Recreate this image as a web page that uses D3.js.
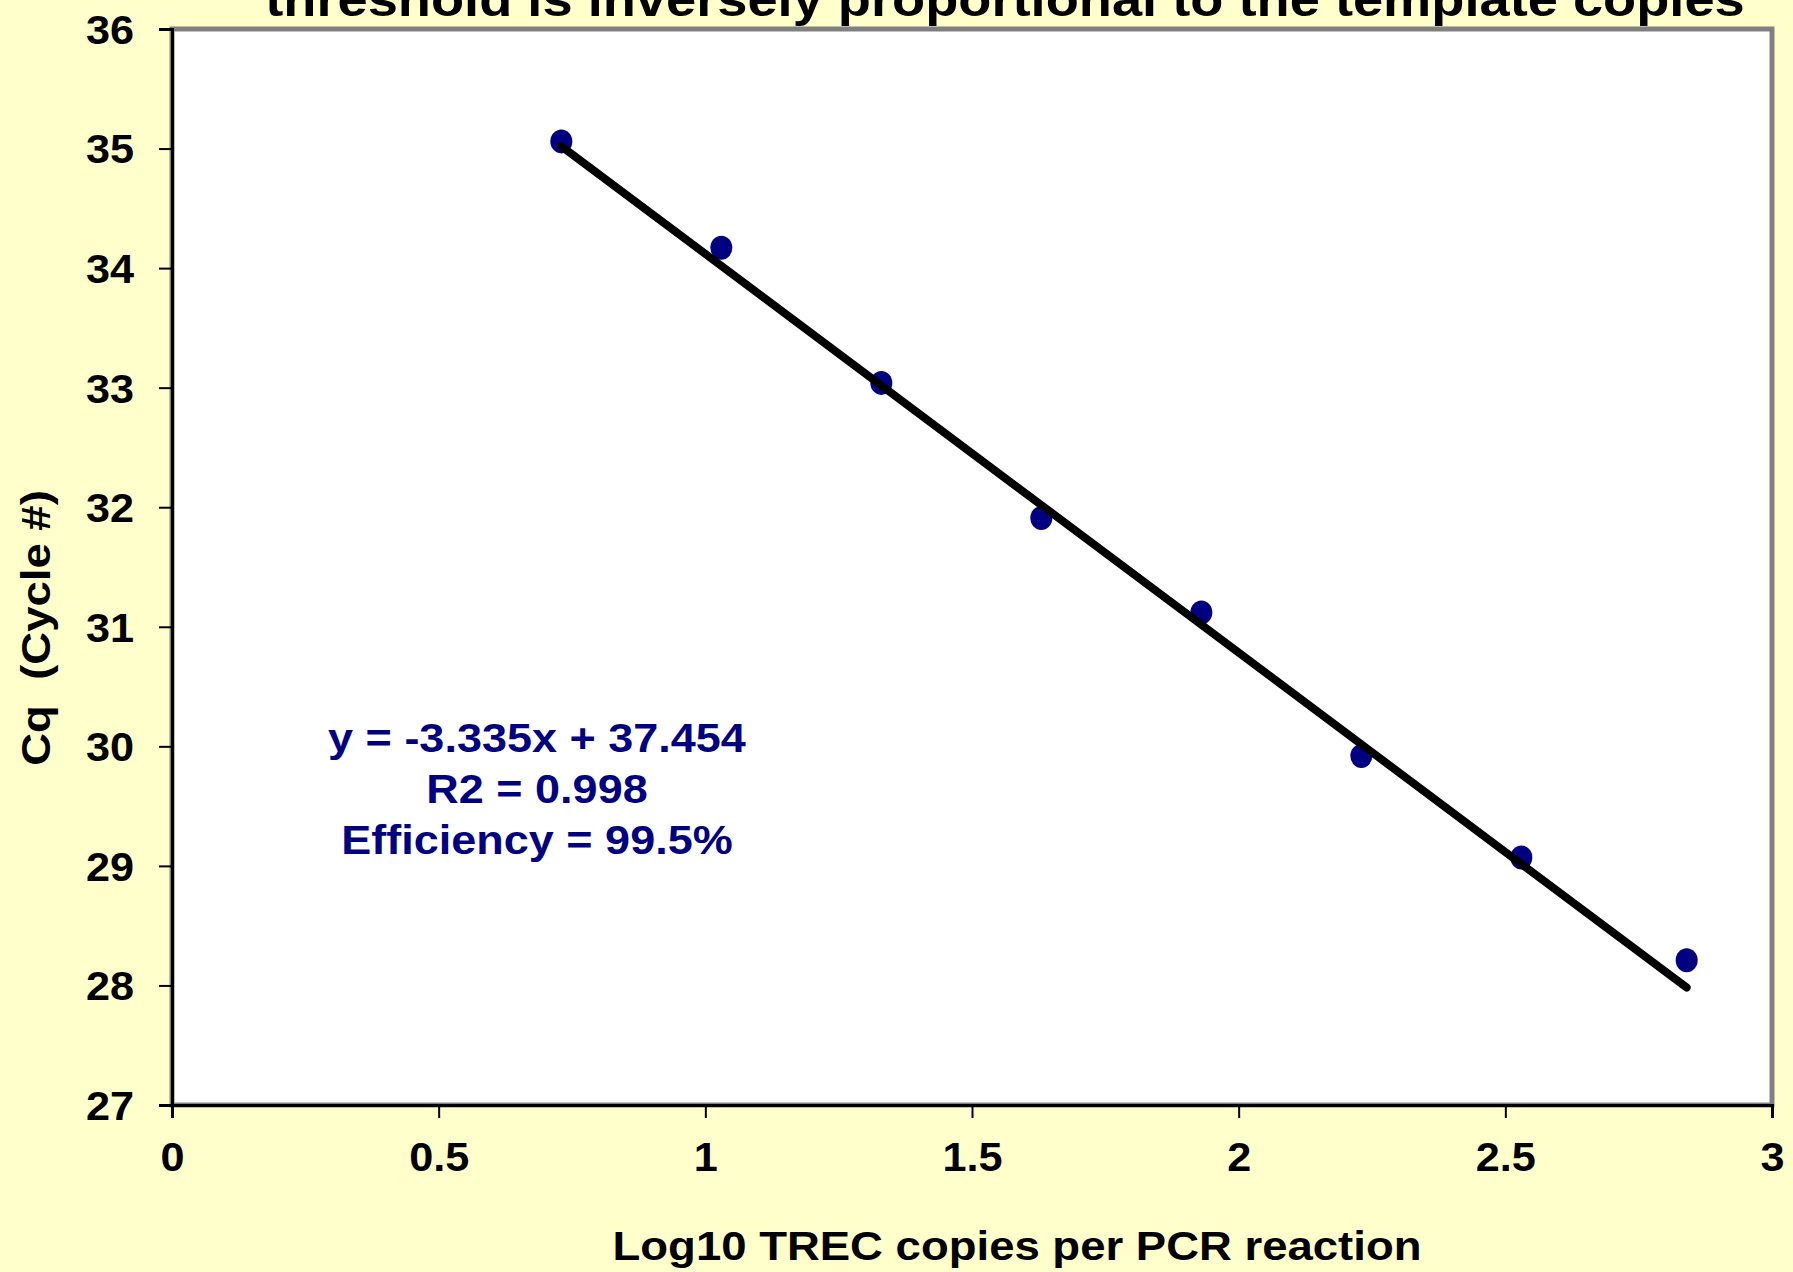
<!DOCTYPE html>
<html>
<head>
<meta charset="utf-8">
<script src="https://cdn.jsdelivr.net/npm/d3@7"></script>
<style>
  html, body { margin: 0; padding: 0; background: #FFFFCC; }
  svg { display: block; }
  text { font-family: "Liberation Sans", Arial, sans-serif; font-weight: bold; white-space: pre; }
</style>
</head>
<body>
<svg id="chart" width="1793" height="1272"></svg>
<script>
// Standard curve: Cq versus log10 template copies
const logCopies = [0.73, 1.03, 1.33, 1.63, 1.93, 2.23, 2.53, 2.84];
const cqValues  = [35.06, 34.17, 33.04, 31.91, 31.12, 29.92, 29.07, 28.21];
const fitSlope = -3.335;
const fitIntercept = 37.454;
const fitR2 = 0.998;
const efficiencyPct = 99.5;
const xTicks = [0, 0.5, 1, 1.5, 2, 2.5, 3];
const yTicks = [27, 28, 29, 30, 31, 32, 33, 34, 35, 36];

const titleText = "threshold is inversely proportional to the template copies";
const xTitle = "Log10 TREC copies per PCR reaction";
const yTitle = "Cq  (Cycle #)";

const m = { left: 172, right: 1772, top: 29, bottom: 1105 };

const svg = d3.select("#chart");

const x = d3.scaleLinear().domain([0, 3]).range([m.left, m.right]);
const y = d3.scaleLinear().domain([27, 36]).range([m.bottom, m.top]);

// widen glyphs horizontally around a chosen origin
function stretch(sel, k, origin) {
  sel.style("transform-box", "fill-box")
     .style("transform-origin", origin || "center")
     .style("transform", `scaleX(${k})`);
}

// plot area with grey frame
svg.append("rect")
  .attr("x", m.left).attr("y", m.top)
  .attr("width", m.right - m.left).attr("height", m.bottom - m.top)
  .attr("fill", "#FFFFFF")
  .attr("stroke", "#808080").attr("stroke-width", 5);

// title (runs off the top edge)
svg.append("text")
  .attr("x", 1005).attr("y", 16)
  .attr("text-anchor", "middle")
  .attr("font-size", 48)
  .attr("fill", "#000")
  .text(titleText)
  .call(stretch, 1.13);

// axes
const yAxis = d3.axisLeft(y).tickValues(yTicks).tickSize(13).tickPadding(25).tickFormat(d3.format("d"));
const xAxis = d3.axisBottom(x).tickValues(xTicks).tickSize(13).tickPadding(25).tickFormat(d => String(d));

const gy = svg.append("g").attr("transform", `translate(${m.left},0)`).call(yAxis);
const gx = svg.append("g").attr("transform", `translate(0,${m.bottom})`).call(xAxis);

[gx, gy].forEach(g => {
  g.select(".domain").attr("stroke", "#000").attr("stroke-width", 3);
  g.selectAll(".tick line").attr("stroke", "#000").attr("stroke-width", 2);
  g.selectAll(".tick text")
    .attr("fill", "#000")
    .attr("font-family", "'Liberation Sans', Arial, sans-serif")
    .attr("font-weight", "bold")
    .attr("font-size", 40);
});
gy.selectAll(".tick text").attr("dy", "0.36em").call(stretch, 1.08, "right center");
gx.selectAll(".tick text").attr("dy", "0.71em").call(stretch, 1.08, "center");

// axis titles
svg.append("text")
  .attr("x", 1017).attr("y", 1260)
  .attr("text-anchor", "middle")
  .attr("font-size", 41)
  .attr("fill", "#000")
  .text(xTitle)
  .call(stretch, 1.11);

svg.append("g")
  .attr("transform", `translate(50,628) rotate(-90)`)
  .append("text")
  .attr("xml:space", "preserve")
  .attr("text-anchor", "middle")
  .attr("font-size", 41)
  .attr("fill", "#000")
  .text(yTitle)
  .call(stretch, 1.11);

// regression line over the range of the standards
const xr = d3.extent(logCopies);
const fitLine = [xr[0], xr[1]].map(v => [x(v), y(fitSlope * v + fitIntercept)]);

// standards
svg.append("g").selectAll("ellipse")
  .data(logCopies.map((v, i) => [v, cqValues[i]]))
  .join("ellipse")
  .attr("cx", d => x(d[0])).attr("cy", d => y(d[1]))
  .attr("rx", 11).attr("ry", 12)
  .attr("fill", "#000080");

svg.append("line")
  .attr("x1", fitLine[0][0]).attr("y1", fitLine[0][1])
  .attr("x2", fitLine[1][0]).attr("y2", fitLine[1][1])
  .attr("stroke", "#000").attr("stroke-width", 8).attr("stroke-linecap", "round");

// fit annotation
const eqLines = [
  `y = ${fitSlope}x + ${fitIntercept}`,
  `R2 = ${fitR2}`,
  `Efficiency = ${efficiencyPct}%`
];
svg.append("g").selectAll("text")
  .data(eqLines)
  .join("text")
  .attr("x", 537)
  .attr("y", (d, i) => 752 + i * 51)
  .attr("text-anchor", "middle")
  .attr("font-size", 40)
  .attr("fill", "#000080")
  .text(d => d)
  .call(stretch, 1.125);
</script>
</body>
</html>
